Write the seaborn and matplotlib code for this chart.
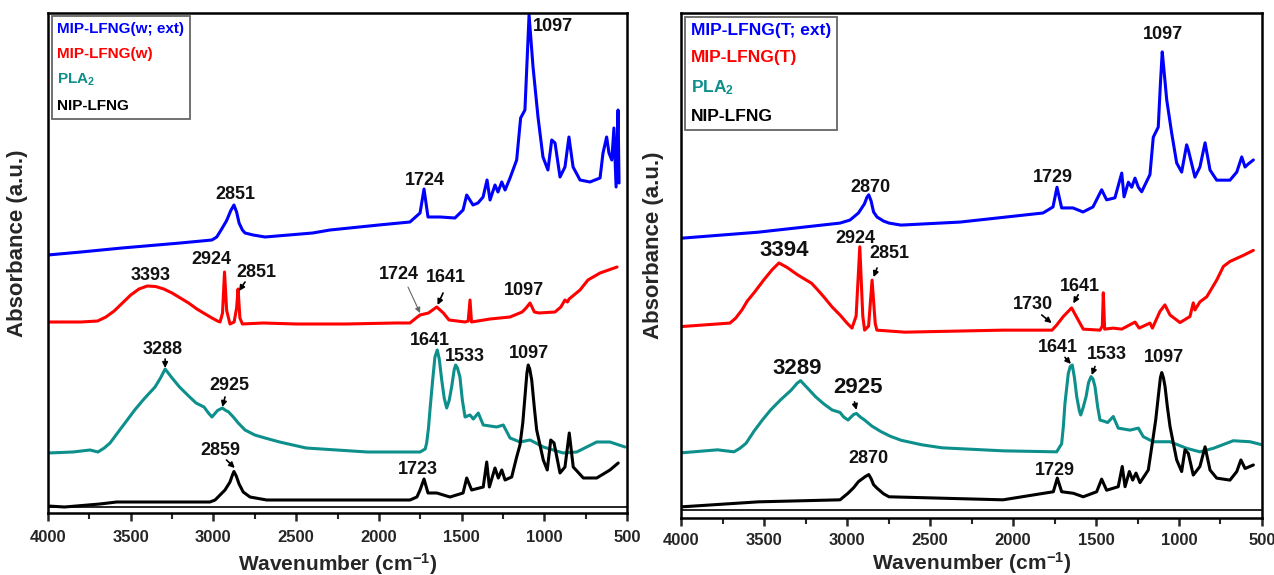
import matplotlib

matplotlib.use("Agg")
import matplotlib.pyplot as plt
from matplotlib.ticker import MultipleLocator
import pandas as pd
import seaborn as sns

# ---- left panel (w) : wavenumber (cm-1) / absorbance (a.u., offset stack) ----
w_ext_wn = [4000, 3800, 3553, 3200, 3009, 2980, 2950, 2920, 2895, 2876, 2860, 2845,
            2825, 2809, 2760, 2688, 2400, 2295, 2000, 1812, 1751, 1727, 1703, 1630,
            1540, 1491, 1469, 1431, 1401, 1370, 1346, 1328, 1298, 1280, 1257, 1237,
            1207, 1167, 1143, 1117, 1092, 1068, 1038, 1008, 978, 955, 935, 905, 875,
            851, 826, 784, 724, 663, 645, 623, 609, 592, 579, 566, 554, 548]
w_ext_abs = [51.6, 52.2, 53.0, 54.0, 54.6, 55.2, 56.8, 58.5, 60.5, 61.6, 60.2, 58.0,
             56.6, 56.0, 55.6, 55.2, 56.0, 56.6, 57.6, 58.2, 60.0, 64.8, 59.2, 59.2,
             59.0, 60.6, 63.6, 61.6, 62.0, 63.2, 66.6, 62.6, 65.6, 64.2, 66.2, 64.6,
             67.0, 70.6, 79.0, 80.6, 99.6, 89.2, 79.2, 71.2, 68.6, 74.6, 74.0, 67.2,
             69.2, 75.2, 69.2, 66.6, 66.2, 67.0, 72.0, 75.2, 72.0, 70.6, 77.0, 65.2,
             80.6, 66.0]

w_wn = [4000, 3800, 3700, 3650, 3600, 3550, 3500, 3450, 3400, 3350, 3300, 3250, 3200,
        3150, 3100, 3050, 3009, 2975, 2960, 2945, 2933, 2920, 2900, 2875, 2860, 2851,
        2840, 2825, 2700, 2500, 2200, 1900, 1812, 1775, 1751, 1700, 1650, 1610, 1576,
        1479, 1460, 1449, 1440, 1328, 1207, 1134, 1110, 1086, 1060, 1032, 935, 900,
        875, 860, 850, 784, 736, 663, 560]
w_abs = [38.2, 38.2, 38.4, 39.2, 40.4, 42.0, 43.6, 44.8, 45.4, 45.3, 44.8, 44.0, 43.0,
         42.0, 40.8, 39.8, 39.0, 38.4, 38.2, 40.0, 48.2, 40.5, 37.8, 38.2, 41.0, 44.8,
         39.0, 37.8, 38.0, 37.8, 37.8, 38.0, 38.0, 39.0, 39.6, 40.0, 41.2, 40.0, 38.6,
         38.2, 38.4, 42.6, 38.2, 38.8, 39.2, 40.2, 41.0, 42.0, 40.2, 40.0, 40.2, 41.2,
         42.6, 42.2, 42.8, 44.6, 46.6, 48.0, 49.2]

pla_l_wn = [4000, 3850, 3746, 3698, 3660, 3625, 3580, 3530, 3476, 3420, 3353, 3320,
            3292, 3250, 3205, 3150, 3105, 3057, 3030, 3009, 2975, 2946, 2930, 2908,
            2880, 2850, 2809, 2750, 2688, 2600, 2440, 2070, 1751, 1720, 1711, 1700,
            1691, 1675, 1661, 1647, 1635, 1620, 1605, 1590, 1575, 1560, 1545, 1536,
            1525, 1510, 1495, 1479, 1449, 1429, 1399, 1369, 1288, 1248, 1207, 1147,
            1086, 1006, 885, 804, 683, 603, 512]
pla_l_abs = [12.0, 12.2, 12.6, 12.2, 13.0, 14.0, 16.0, 18.2, 20.6, 22.8, 25.2, 27.0,
             28.8, 27.0, 25.2, 23.4, 22.0, 21.2, 20.0, 19.2, 20.5, 21.0, 20.6, 20.2,
             19.2, 18.0, 16.6, 15.6, 15.0, 14.2, 13.0, 12.2, 12.2, 12.8, 14.0, 17.0,
             20.6, 26.5, 31.2, 32.6, 30.8, 26.6, 23.0, 21.0, 22.5, 25.2, 28.6, 29.6,
             29.0, 27.2, 22.5, 19.2, 19.6, 18.8, 20.0, 17.6, 17.2, 17.6, 15.0, 14.2,
             14.6, 13.2, 12.0, 12.2, 14.2, 14.2, 13.2]

nip_l_wn = [4000, 3900, 3686, 3585, 3383, 3021, 2990, 2960, 2930, 2900, 2885, 2876,
            2862, 2845, 2820, 2779, 2678, 2070, 1812, 1770, 1751, 1727, 1703, 1650,
            1570, 1491, 1469, 1439, 1369, 1348, 1332, 1298, 1278, 1257, 1237, 1197,
            1167, 1147, 1130, 1117, 1105, 1097, 1088, 1076, 1060, 1046, 1006, 982,
            961, 941, 905, 875, 849, 825, 764, 683, 603, 553]
nip_l_abs = [1.4, 1.2, 1.8, 2.2, 2.2, 2.2, 2.6, 3.6, 4.6, 6.2, 7.6, 8.3,
             7.4, 5.8, 4.2, 3.2, 2.6, 2.6, 2.6, 3.2, 4.6, 6.8, 4.0, 4.0,
             3.2, 4.0, 7.0, 4.6, 5.2, 10.2, 5.2, 9.0, 7.0, 8.6, 6.6, 7.2,
             11.2, 13.6, 18.0, 23.2, 28.0, 29.6, 28.8, 26.6, 21.0, 16.6, 10.6, 8.6,
             14.6, 14.0, 8.0, 9.2, 16.0, 9.2, 7.0, 7.0, 8.6, 10.0]

# ---- right panel (T) ----
t_ext_wn = [4000, 3534, 3042, 2982, 2931, 2895, 2880, 2869, 2855, 2840, 2819, 2780,
            2747, 2675, 2319, 1819, 1759, 1735, 1707, 1639, 1578, 1518, 1466, 1436,
            1386, 1345, 1331, 1305, 1285, 1265, 1245, 1225, 1175, 1155, 1125, 1112,
            1101, 1090, 1074, 1044, 1014, 984, 954, 944, 904, 874, 843, 813, 773,
            693, 652, 622, 602, 583, 552]
t_ext_abs = [55.4, 56.6, 58.4, 59.0, 60.4, 62.2, 63.5, 64.0, 62.8, 60.6, 59.6, 58.8,
             58.4, 58.0, 58.6, 60.4, 61.6, 65.5, 61.4, 61.4, 60.6, 61.6, 65.0, 63.0,
             63.4, 68.3, 63.6, 66.5, 65.5, 67.3, 65.5, 64.6, 68.0, 75.4, 77.4, 86.0,
             92.3, 88.5, 82.8, 76.2, 70.3, 68.5, 73.9, 72.9, 67.5, 69.5, 74.3, 68.9,
             66.9, 66.9, 68.5, 71.5, 69.5, 70.1, 70.9]

t_wn = [4000, 3705, 3670, 3633, 3600, 3560, 3500, 3450, 3410, 3360, 3300, 3250, 3214,
        3180, 3140, 3090, 3042, 3000, 2970, 2945, 2923, 2905, 2894, 2870, 2849, 2830,
        2820, 2651, 2060, 1765, 1737, 1697, 1647, 1607, 1577, 1476, 1462, 1456, 1448,
        1396, 1345, 1265, 1240, 1175, 1160, 1115, 1085, 1054, 994, 934, 914, 904, 874,
        833, 773, 733, 693, 613, 552]
t_abs = [37.9, 38.6, 39.6, 41.2, 43.0, 44.6, 47.2, 49.2, 50.5, 49.6, 48.2, 47.2, 46.5,
         45.3, 43.8, 41.8, 40.2, 38.6, 37.6, 40.0, 53.7, 40.0, 37.2, 38.0, 47.1, 38.5,
         37.2, 36.8, 37.2, 37.2, 38.2, 39.9, 41.6, 39.2, 37.4, 37.2, 38.0, 44.6, 37.4,
         37.6, 37.4, 38.8, 37.6, 38.6, 37.6, 40.9, 42.2, 40.2, 38.7, 39.9, 42.6, 41.2,
         42.8, 43.8, 47.1, 49.8, 50.8, 52.0, 53.0]

pla_r_wn = [4000, 3780, 3681, 3645, 3608, 3560, 3510, 3460, 3400, 3337, 3300, 3280,
            3240, 3189, 3140, 3090, 3042, 3020, 2994, 2960, 2943, 2920, 2894, 2850,
            2795, 2740, 2675, 2550, 2428, 2060, 1737, 1707, 1697, 1687, 1667, 1655,
            1643, 1630, 1616, 1600, 1592, 1578, 1560, 1545, 1530, 1518, 1506, 1490,
            1476, 1446, 1430, 1396, 1366, 1295, 1245, 1215, 1155, 1054, 954, 874, 793,
            673, 572, 500]
pla_r_abs = [12.9, 13.5, 13.1, 13.8, 14.8, 17.2, 19.4, 21.4, 23.4, 25.3, 26.7, 27.2,
             25.8, 24.0, 22.6, 21.4, 20.9, 20.0, 19.4, 20.5, 20.7, 20.0, 19.4, 18.2,
             17.1, 16.2, 15.4, 14.5, 13.9, 13.3, 13.1, 14.7, 18.0, 22.7, 28.6, 30.0,
             30.3, 27.8, 24.0, 21.2, 20.4, 21.8, 24.0, 26.8, 28.0, 27.5, 26.0, 22.0,
             19.4, 19.1, 18.9, 20.1, 17.8, 17.4, 17.8, 16.1, 15.1, 15.1, 13.8, 13.1,
             13.8, 15.3, 15.1, 14.5]

nip_r_wn = [4000, 3534, 3042, 2994, 2960, 2931, 2890, 2869, 2855, 2840, 2819, 2780,
            2747, 2060, 1757, 1733, 1707, 1637, 1577, 1496, 1466, 1436, 1366, 1342,
            1325, 1299, 1279, 1259, 1235, 1185, 1155, 1140, 1125, 1112, 1104, 1094,
            1084, 1070, 1054, 1014, 984, 964, 944, 914, 874, 843, 813, 773, 693, 652,
            627, 602, 552]
nip_r_abs = [2.2, 3.2, 3.6, 4.9, 6.0, 7.2, 8.2, 8.6, 7.8, 6.6, 5.9, 4.8,
             4.2, 3.6, 5.2, 7.9, 5.2, 4.9, 4.2, 5.2, 7.7, 5.5, 6.2, 10.2,
             6.2, 9.2, 7.5, 8.9, 7.0, 9.5, 16.1, 19.5, 24.0, 27.8, 28.8, 27.8,
             26.0, 22.0, 18.1, 11.5, 9.2, 13.5, 12.8, 8.5, 10.2, 14.1, 9.5, 7.9, 7.5,
             9.2, 11.5, 9.8, 10.5]

left_names = ["MIP-LFNG(w; ext)", "MIP-LFNG(w)", "PLA$_2$", "NIP-LFNG"]
right_names = ["MIP-LFNG(T; ext)", "MIP-LFNG(T)", "PLA$_2$", "NIP-LFNG"]
colors = ["#0000ff", "#ff0000", "#0d8f8c", "#000000"]

sns.set_theme(style="ticks")
plt.rcParams["font.family"] = ["Liberation Sans", "DejaVu Sans"]
plt.rcParams["font.weight"] = "bold"
plt.rcParams["mathtext.fontset"] = "custom"
plt.rcParams["mathtext.rm"] = "Liberation Sans:bold"
plt.rcParams["mathtext.it"] = "Liberation Sans:bold"
plt.rcParams["mathtext.bf"] = "Liberation Sans:bold"


def draw_panel(ax, curves, names, notes, arrows, legend_size, inner_line, tick_pad):
    for (wn, ab), name, c in zip(curves, names, colors):
        df = pd.DataFrame({"wavenumber": wn, "absorbance": ab})
        sns.lineplot(data=df, x="wavenumber", y="absorbance", sort=False,
                     estimator=None, color=c, lw=2.2, label=name, ax=ax)

    ax.set_xlim(4000, 500)
    ax.set_ylim(0, 100)
    ax.set_xticks(list(range(4000, 499, -500)))
    ax.xaxis.set_minor_locator(MultipleLocator(250))
    ax.set_yticks([])
    ax.tick_params(axis="x", which="major", direction="out", length=6, width=1.8,
                   labelsize=12, pad=tick_pad, bottom=True)
    ax.tick_params(axis="x", which="minor", direction="out", length=4, width=1.5,
                   bottom=True)
    for lab in ax.get_xticklabels():
        lab.set_fontweight("bold")
    for sp in ax.spines.values():
        sp.set_linewidth(1.8)
        sp.set_color("black")
    ax.axhline(inner_line, color="black", lw=1.2)

    ax.set_xlabel("Wavenumber (cm$^{-1}$)", fontsize=15, fontweight="bold")
    ax.set_ylabel("Absorbance (a.u.)", fontsize=16, fontweight="bold")

    for text, x, y, size in notes:
        ax.text(x, y, text, fontsize=size, fontweight="bold", ha="center",
                va="center", color="#111111")
    for start, end, col, lw in arrows:
        ax.annotate("", xy=end, xytext=start,
                    arrowprops=dict(arrowstyle="-|>", color=col, lw=lw,
                                    mutation_scale=8, shrinkA=0, shrinkB=0))

    leg = ax.legend(loc="upper left", bbox_to_anchor=(0.007, 0.993),
                    borderaxespad=0, handlelength=0, handletextpad=0,
                    labelcolor="linecolor", frameon=True, fancybox=False,
                    prop={"weight": "bold", "size": legend_size},
                    labelspacing=0.72, borderpad=0.35)
    leg.get_frame().set_edgecolor("0.25")
    leg.get_frame().set_linewidth(1.3)
    for h in leg.legend_handles:
        h.set_visible(False)


fig = plt.figure(figsize=(12.74, 5.75), dpi=100)
ax_l = fig.add_axes([0.03768, 0.10783, 0.45447, 0.86957])
ax_r = fig.add_axes([0.53454, 0.09913, 0.45604, 0.87826])

left_notes = [
    ("1097", 947, 97.2, 13), ("2851", 2870, 63.6, 13), ("1724", 1724, 66.4, 13),
    ("3393", 3377, 47.4, 13), ("2924", 3015, 50.6, 13), ("2851", 2742, 48.0, 13),
    ("1724", 1878, 47.6, 13), ("1641", 1594, 47.0, 13), ("1097", 1120, 44.4, 13),
    ("3288", 3305, 32.6, 13), ("2925", 2905, 25.4, 13), ("1641", 1691, 34.4, 13),
    ("1533", 1479, 31.2, 13), ("1097", 1095, 31.8, 13), ("2859", 2960, 12.4, 13),
    ("1723", 1763, 8.6, 13),
]
left_arrows = [
    ((2809, 46.2), (2845, 44.4), "black", 1.2),
    ((1824, 45.2), (1751, 40.0), "0.4", 0.8),
    ((1612, 44.0), (1645, 41.6), "black", 1.2),
    ((3292, 30.8), (3292, 29.0), "black", 1.2),
    ((2930, 23.2), (2946, 21.2), "black", 1.2),
    ((2921, 10.6), (2871, 9.0), "black", 1.2),
]
right_notes = [
    ("1097", 1095, 95.7, 13), ("1729", 1757, 67.5, 13), ("2870", 2857, 65.5, 13),
    ("3394", 3381, 53.0, 16), ("2924", 2952, 55.4, 13), ("2851", 2747, 52.3, 13),
    ("1730", 1877, 42.2, 13), ("1641", 1596, 45.9, 13), ("3289", 3301, 29.6, 16),
    ("2925", 2936, 25.8, 16), ("1641", 1727, 33.8, 13), ("1533", 1436, 32.3, 13),
    ("1097", 1090, 31.8, 13), ("2870", 2869, 11.7, 13), ("1729", 1747, 9.5, 13),
]
right_arrows = [
    ((2819, 49.5), (2840, 47.7), "black", 1.2),
    ((1827, 40.2), (1767, 38.6), "black", 1.2),
    ((1607, 44.2), (1637, 42.5), "black", 1.2),
    ((2955, 23.0), (2943, 21.4), "black", 1.2),
    ((1687, 31.8), (1651, 30.5), "black", 1.2),
    ((1506, 30.0), (1526, 28.3), "black", 1.2),
]

draw_panel(ax_l,
           [(w_ext_wn, w_ext_abs), (w_wn, w_abs), (pla_l_wn, pla_l_abs),
            (nip_l_wn, nip_l_abs)],
           left_names, left_notes, left_arrows, 11, 1.2, 6.5)
draw_panel(ax_r,
           [(t_ext_wn, t_ext_abs), (t_wn, t_abs), (pla_r_wn, pla_r_abs),
            (nip_r_wn, nip_r_abs)],
           right_names, right_notes, right_arrows, 12.5, 1.6, 5)

ax_l.yaxis.set_label_coords(-0.034, 0.54)
ax_l.xaxis.set_label_coords(0.5, -0.076)
ax_r.yaxis.set_label_coords(-0.03, 0.54)
ax_r.xaxis.set_label_coords(0.5, -0.063)

fig.savefig("out.png", dpi=100)
